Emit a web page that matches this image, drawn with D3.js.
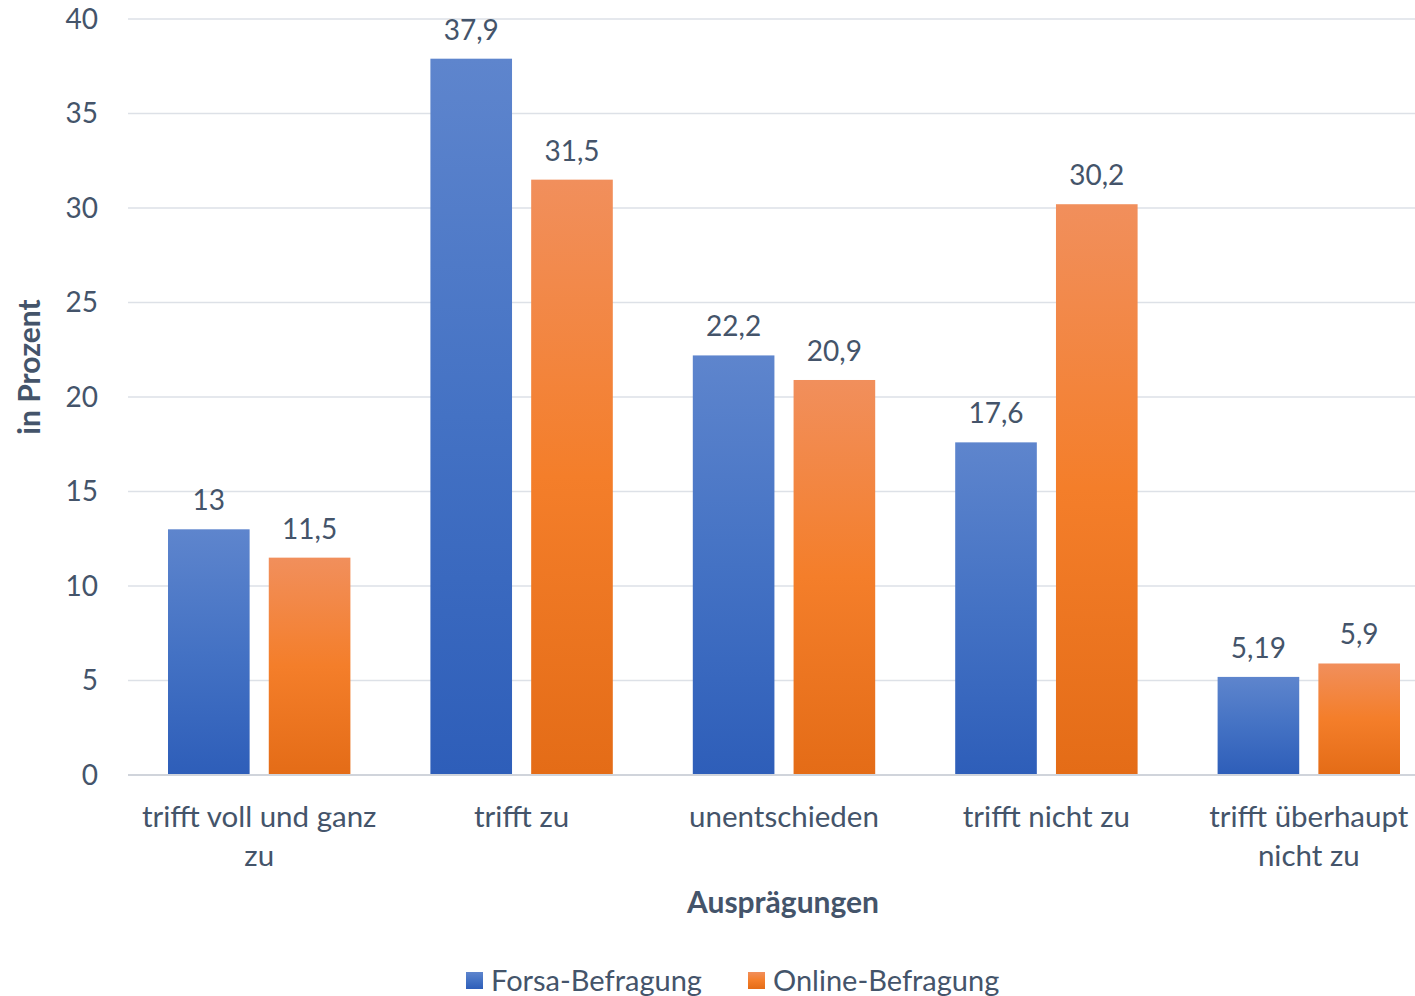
<!DOCTYPE html>
<html>
<head>
<meta charset="utf-8">
<script src="https://cdn.jsdelivr.net/npm/d3@7"></script>
<style>
  body { margin: 0; background: #fff; }
  svg { display: block; font-family: Lato, "Open Sans", sans-serif; }
</style>
</head>
<body>
<svg id="chart" width="1415" height="996"></svg>
<script>
const categories = [
  ["trifft voll und ganz", "zu"],
  ["trifft zu"],
  ["unentschieden"],
  ["trifft nicht zu"],
  ["trifft überhaupt", "nicht zu"]
];
const forsa = [13, 37.9, 22.2, 17.6, 5.19];
const online = [11.5, 31.5, 20.9, 30.2, 5.9];
const seriesNames = ["Forsa-Befragung", "Online-Befragung"];
const yTicks = [0, 5, 10, 15, 20, 25, 30, 35, 40];

const textColor = "#44546a";
const svg = d3.select("#chart");
const margin = { left: 128, right: -25, top: 19, bottom: 221 };
const width = 1415, height = 996;

const x = d3.scaleBand()
  .domain(d3.range(categories.length))
  .range([margin.left, width - margin.right])
  .paddingInner(0)
  .paddingOuter(0);

const y = d3.scaleLinear()
  .domain([0, 40])
  .range([height - margin.bottom, margin.top]);

const xSub = d3.scaleBand()
  .domain([0, 1])
  .range([40, x.bandwidth() - 40])
  .paddingInner(0.19)
  .paddingOuter(0);

// gradients
const defs = svg.append("defs");
const grads = [
  { id: "gBlue", stops: ["#5e85cd", "#4472c4", "#2e5eb9"] },
  { id: "gOrange", stops: ["#f18f5c", "#f47e2a", "#e46c17"] }
];
grads.forEach(g => {
  const lg = defs.append("linearGradient")
    .attr("id", g.id).attr("x1", 0).attr("y1", 0).attr("x2", 0).attr("y2", 1);
  lg.append("stop").attr("offset", "0%").attr("stop-color", g.stops[0]);
  lg.append("stop").attr("offset", "50%").attr("stop-color", g.stops[1]);
  lg.append("stop").attr("offset", "100%").attr("stop-color", g.stops[2]);
});

// gridlines
svg.append("g")
  .selectAll("line")
  .data(yTicks)
  .join("line")
  .attr("x1", margin.left).attr("x2", width)
  .attr("y1", d => y(d)).attr("y2", d => y(d))
  .attr("stroke", d => d === 0 ? "#d0d4db" : "#dde1e7")
  .attr("stroke-width", d => d === 0 ? 2 : 1.5);

// y axis labels
svg.append("g")
  .selectAll("text")
  .data(yTicks)
  .join("text")
  .attr("x", 98).attr("y", d => y(d))
  .attr("dy", "0.35em")
  .attr("text-anchor", "end")
  .attr("fill", textColor)
  .attr("font-size", 28)
  .text(d => d);

// bars
const series = [forsa, online];
const fills = ["url(#gBlue)", "url(#gOrange)"];
series.forEach((vals, s) => {
  const g = svg.append("g");
  g.selectAll("rect")
    .data(vals)
    .join("rect")
    .attr("x", (d, i) => x(i) + xSub(s))
    .attr("width", xSub.bandwidth())
    .attr("y", d => y(d))
    .attr("height", d => y(0) - y(d) - 1)
    .attr("fill", fills[s]);
  g.selectAll("text")
    .data(vals)
    .join("text")
    .attr("x", (d, i) => x(i) + xSub(s) + xSub.bandwidth() / 2)
    .attr("y", d => y(d) - 19)
    .attr("text-anchor", "middle")
    .attr("fill", textColor)
    .attr("font-size", 28)
    .text(d => String(d).replace(".", ","));
});

// category labels
const cat = svg.append("g")
  .selectAll("text")
  .data(categories)
  .join("text")
  .attr("text-anchor", "middle")
  .attr("fill", textColor)
  .attr("font-size", 29.5);
cat.each(function(lines, i) {
  d3.select(this).selectAll("tspan")
    .data(lines)
    .join("tspan")
    .attr("x", x(i) + x.bandwidth() / 2)
    .attr("y", (d, j) => 827 + j * 39)
    .text(d => d);
});

// axis titles
svg.append("text")
  .attr("x", 783).attr("y", 913)
  .attr("text-anchor", "middle")
  .attr("font-weight", "bold")
  .attr("font-size", 30)
  .attr("fill", textColor)
  .text("Ausprägungen");

svg.append("text")
  .attr("transform", `translate(40,${367}) rotate(-90)`)
  .attr("text-anchor", "middle")
  .attr("font-weight", "bold")
  .attr("font-size", 30)
  .attr("fill", textColor)
  .text("in Prozent");

// legend
const legendX = [466, 748];
const legend = svg.append("g")
  .selectAll("g")
  .data(seriesNames)
  .join("g")
  .attr("transform", (d, i) => `translate(${legendX[i]},972)`);
legend.append("rect")
  .attr("width", 17).attr("height", 17)
  .attr("fill", (d, i) => fills[i]);
legend.append("text")
  .attr("x", 25).attr("y", 19)
  .attr("fill", textColor)
  .attr("font-size", 29)
  .text(d => d);
</script>
</body>
</html>
